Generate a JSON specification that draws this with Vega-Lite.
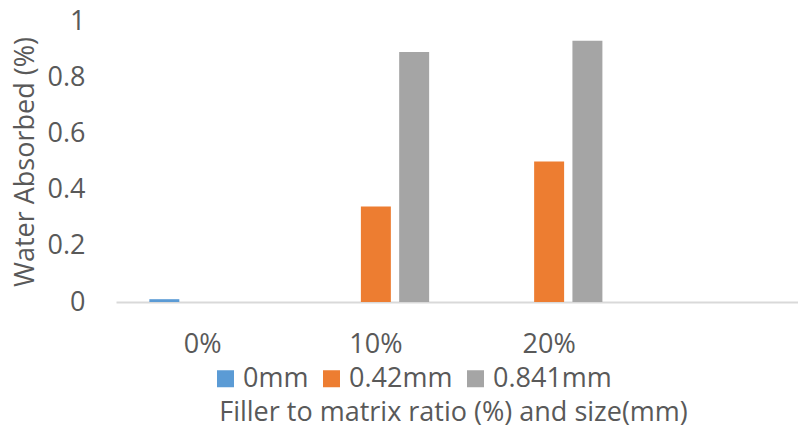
{
  "$schema": "https://vega.github.io/schema/vega-lite/v6.json",
  "autosize": {"type": "none"},
  "padding": {"left": 116, "top": 21, "right": 0, "bottom": 128},
  "width": 682,
  "height": 281,
  "background": "white",
  "config": {
    "view": {"stroke": null},
    "font": "Open Sans",
    "axis": {
      "labelFont": "Open Sans",
      "titleFont": "Open Sans",
      "labelColor": "#595959",
      "titleColor": "#595959",
      "labelFontSize": 27,
      "titleFontSize": 27,
      "titleFontWeight": "normal",
      "grid": false,
      "ticks": false
    },
    "legend": {
      "labelFont": "Open Sans",
      "labelFontSize": 27,
      "labelColor": "#595959"
    }
  },
  "data": {
    "values": [
      {"ratio": "0%", "size": "0mm", "absorbed": 0.01},
      {"ratio": "10%", "size": "0.42mm", "absorbed": 0.34},
      {"ratio": "10%", "size": "0.841mm", "absorbed": 0.89},
      {"ratio": "20%", "size": "0.42mm", "absorbed": 0.5},
      {"ratio": "20%", "size": "0.841mm", "absorbed": 0.93}
    ]
  },
  "mark": {"type": "bar"},
  "encoding": {
    "x": {
      "field": "ratio",
      "type": "nominal",
      "scale": {
        "domain": ["0%", "10%", "20%", ""],
        "range": [0, 693],
        "paddingInner": 0.385,
        "paddingOuter": 0.1925
      },
      "axis": {
        "title": "Filler to matrix ratio (%) and size(mm)",
        "labelAngle": 0,
        "labelPadding": 29,
        "domainColor": "#D9D9D9",
        "domainWidth": 2,
        "titlePadding": 42,
        "titleX": 337
      }
    },
    "xOffset": {
      "field": "size",
      "type": "nominal",
      "scale": {
        "domain": ["0mm", "0.42mm", "0.841mm"],
        "paddingInner": 0.217,
        "paddingOuter": 0
      }
    },
    "y": {
      "field": "absorbed",
      "type": "quantitative",
      "scale": {"domain": [0, 1], "nice": false},
      "axis": {
        "title": "Water Absorbed (%)",
        "values": [0, 0.2, 0.4, 0.6, 0.8, 1],
        "format": "~g",
        "domain": false,
        "labelPadding": 31,
        "titlePadding": 8
      }
    },
    "color": {
      "field": "size",
      "type": "nominal",
      "scale": {
        "domain": ["0mm", "0.42mm", "0.841mm"],
        "range": ["#5B9BD5", "#ED7D31", "#A5A5A5"]
      },
      "legend": {
        "title": null,
        "orient": "none",
        "direction": "horizontal",
        "legendX": 96,
        "legendY": 344,
        "symbolType": "square",
        "symbolSize": 289,
        "symbolStrokeWidth": 0,
        "symbolOpacity": 1,
        "labelOffset": 4,
        "columnPadding": 9
      }
    }
  }
}
